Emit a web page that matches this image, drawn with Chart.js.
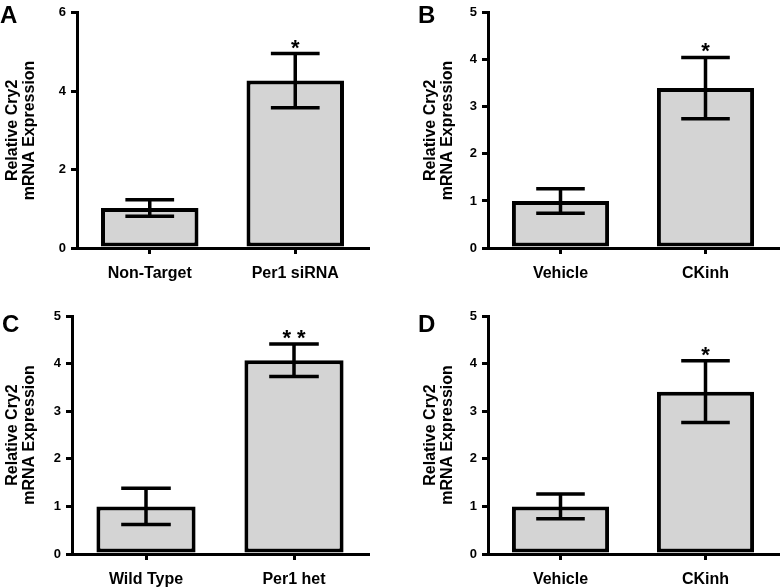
<!DOCTYPE html>
<html>
<head>
<meta charset="utf-8">
<script src="https://cdn.jsdelivr.net/npm/chart.js@4.4.1/dist/chart.umd.min.js"></script>
<style>
  html, body { margin: 0; padding: 0; background: #fff; }
  #wrap { position: relative; width: 780px; height: 587px; }
  .panel { position: absolute; }
</style>
</head>
<body>
<div id="wrap">
  <canvas class="panel" id="panelA" width="390" height="293" style="left:0;top:0"></canvas>
  <canvas class="panel" id="panelB" width="390" height="293" style="left:390px;top:0"></canvas>
  <canvas class="panel" id="panelC" width="390" height="294" style="left:0;top:293px"></canvas>
  <canvas class="panel" id="panelD" width="390" height="294" style="left:390px;top:293px"></canvas>
</div>
<script>
// panel A
const labelsA = ["Non-Target", "Per1 siRNA"];
const meanA = [1.02, 4.27];
const errA = [0.21, 0.69];
const starsA = ["", "*"];
const ticksA = [0, 2, 4, 6];

// panel B
const labelsB = ["Vehicle", "CKinh"];
const meanB = [1.0, 3.4];
const errB = [0.26, 0.65];
const starsB = ["", "*"];
const ticksB = [0, 1, 2, 3, 4, 5];

// panel C
const labelsC = ["Wild Type", "Per1 het"];
const meanC = [1.0, 4.07];
const errC = [0.38, 0.34];
const starsC = ["", "* *"];
const ticksC = [0, 1, 2, 3, 4, 5];

// panel D
const labelsD = ["Vehicle", "CKinh"];
const meanD = [1.0, 3.41];
const errD = [0.26, 0.65];
const starsD = ["", "*"];
const ticksD = [0, 1, 2, 3, 4, 5];

const yTitle = ["Relative Cry2", "mRNA Expression"];

Chart.defaults.font.family = "'Liberation Sans', Arial, sans-serif";
Chart.defaults.color = "#000";

// error bars, stars and panel letter
const extras = {
    id: "extras",
    afterDatasetsDraw(chart, args, opts) {
        const ctx = chart.ctx;
        const y = chart.scales.y;
        const meta = chart.getDatasetMeta(0);
        ctx.save();
        ctx.strokeStyle = "#000";
        ctx.fillStyle = "#000";
        ctx.lineWidth = 3.5;
        meta.data.forEach((bar, i) => {
            const m = opts.means[i], e = opts.errs[i];
            const yt = y.getPixelForValue(m + e);
            const yb = y.getPixelForValue(m - e);
            const hw = bar.width * 0.25;
            ctx.beginPath();
            ctx.moveTo(bar.x, yt); ctx.lineTo(bar.x, yb);
            ctx.moveTo(bar.x - hw, yt); ctx.lineTo(bar.x + hw, yt);
            ctx.moveTo(bar.x - hw, yb); ctx.lineTo(bar.x + hw, yb);
            ctx.stroke();
            if (opts.stars[i]) {
                ctx.font = "bold 22px 'Liberation Sans', Arial, sans-serif";
                ctx.textAlign = "center";
                ctx.textBaseline = "alphabetic";
                ctx.fillText(opts.stars[i], bar.x, yt + 1);
            }
        });
        ctx.font = "bold 24px 'Liberation Sans', Arial, sans-serif";
        ctx.textAlign = "left";
        ctx.textBaseline = "alphabetic";
        ctx.fillText(opts.letter, opts.letterX, opts.letterY);
        ctx.restore();
    }
};

function makePanel(id, labels, means, errs, stars, ticks, box) {
    const canvas = document.getElementById(id);
    const W = canvas.width, H = canvas.height;
    const yMax = ticks[ticks.length - 1];
    const step = ticks[1] - ticks[0];
    new Chart(canvas, {
        type: "bar",
        data: {
            labels: labels,
            datasets: [{
                data: means,
                backgroundColor: "#d4d4d4",
                borderColor: "#000",
                borderWidth: 4,
                borderSkipped: false,
                barPercentage: 0.67,
                categoryPercentage: 1
            }]
        },
        options: {
            responsive: false,
            animation: false,
            devicePixelRatio: 1,
            layout: { padding: { top: box.top, right: W - box.right, bottom: 0, left: 0 } },
            plugins: {
                legend: { display: false },
                tooltip: { enabled: false },
                extras: { means, errs, stars, letter: box.letter, letterX: box.lx, letterY: box.ly }
            },
            scales: {
                x: {
                    afterFit: s => { s.height = H - box.bottom; },
                    grid: { offset: false, drawOnChartArea: false, tickLength: 6, lineWidth: 3, color: "#000" },
                    border: { display: true, width: 3, color: "#000" },
                    ticks: { padding: 10, font: { size: 16, weight: "bold" }, color: "#000" }
                },
                y: {
                    min: 0,
                    max: yMax,
                    afterFit: s => { s.width = box.left; },
                    grid: { drawOnChartArea: false, tickLength: 6, lineWidth: 3, color: "#000" },
                    border: { display: true, width: 3, color: "#000" },
                    ticks: { stepSize: step, padding: 5, font: { size: 13, weight: "bold" }, color: "#000" },
                    title: {
                        display: true,
                        text: yTitle,
                        padding: { top: box.tpad, bottom: 0 },
                        font: { size: 16, weight: "bold", lineHeight: 1.05 },
                        color: "#000"
                    }
                }
            }
        },
        plugins: [extras]
    });
}

makePanel("panelA", labelsA, meanA, errA, starsA, ticksA,
    { left: 77, right: 368, top: 10, bottom: 248, tpad: 4, letter: "A", lx: 0, ly: 23 });
makePanel("panelB", labelsB, meanB, errB, starsB, ticksB,
    { left: 98, right: 388, top: 10, bottom: 248, tpad: 32, letter: "B", lx: 28, ly: 23 });
makePanel("panelC", labelsC, meanC, errC, starsC, ticksC,
    { left: 72, right: 368, top: 23, bottom: 261, tpad: 4, letter: "C", lx: 2, ly: 39 });
makePanel("panelD", labelsD, meanD, errD, starsD, ticksD,
    { left: 98, right: 388, top: 23, bottom: 261, tpad: 32, letter: "D", lx: 28, ly: 39 });
</script>
</body>
</html>
